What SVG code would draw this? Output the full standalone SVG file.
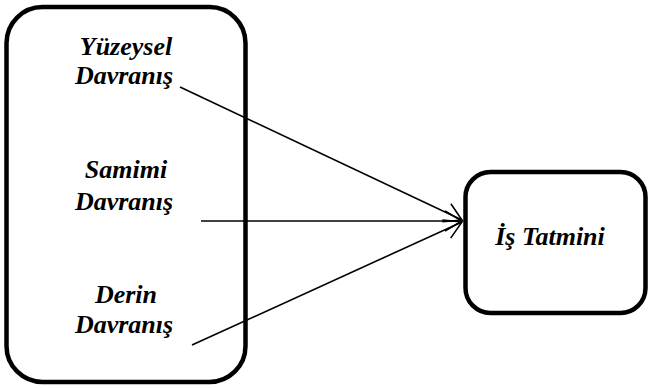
<svg xmlns="http://www.w3.org/2000/svg" width="649" height="388" viewBox="0 0 649 388">
<defs>
<style>
.box{fill:#fff;stroke:#000;stroke-width:4.5}
.t{font-family:"Liberation Serif","Times New Roman",serif;font-weight:bold;font-style:italic;font-size:26px;fill:#000;text-anchor:middle}
.c{stroke:#000;stroke-width:1.6;fill:none;marker-end:url(#ah)}
</style>
<marker id="ah" viewBox="-20 -12 22 24" refX="0" refY="0" markerWidth="22" markerHeight="24" markerUnits="userSpaceOnUse" orient="auto">
<path d="M-17,-10 L0,0 L-17,10" fill="none" stroke="#000" stroke-width="1.6"/>
</marker>
</defs>
<rect width="649" height="388" fill="#fff"/>
<g id="left-node">
<rect class="box" x="6.5" y="7" width="239" height="375" rx="36" ry="36"/>
<text class="t" x="126" y="55">Yüzeysel</text>
<text class="t" x="124" y="84">Davranış</text>
<text class="t" x="126" y="178">Samimi</text>
<text class="t" x="124" y="210">Davranış</text>
<text class="t" x="126" y="303">Derin</text>
<text class="t" x="124" y="333">Davranış</text>
</g>
<g id="right-node">
<rect class="box" x="465.5" y="172" width="180" height="141" rx="25" ry="25"/>
<text class="t" x="550" y="245">İş Tatmini</text>
</g>
<g id="connectors">
<line class="c" x1="180" y1="87" x2="462" y2="220"/>
<line class="c" x1="201" y1="221" x2="462" y2="221"/>
<line class="c" x1="192" y1="345" x2="462" y2="222"/>
</g>
</svg>
